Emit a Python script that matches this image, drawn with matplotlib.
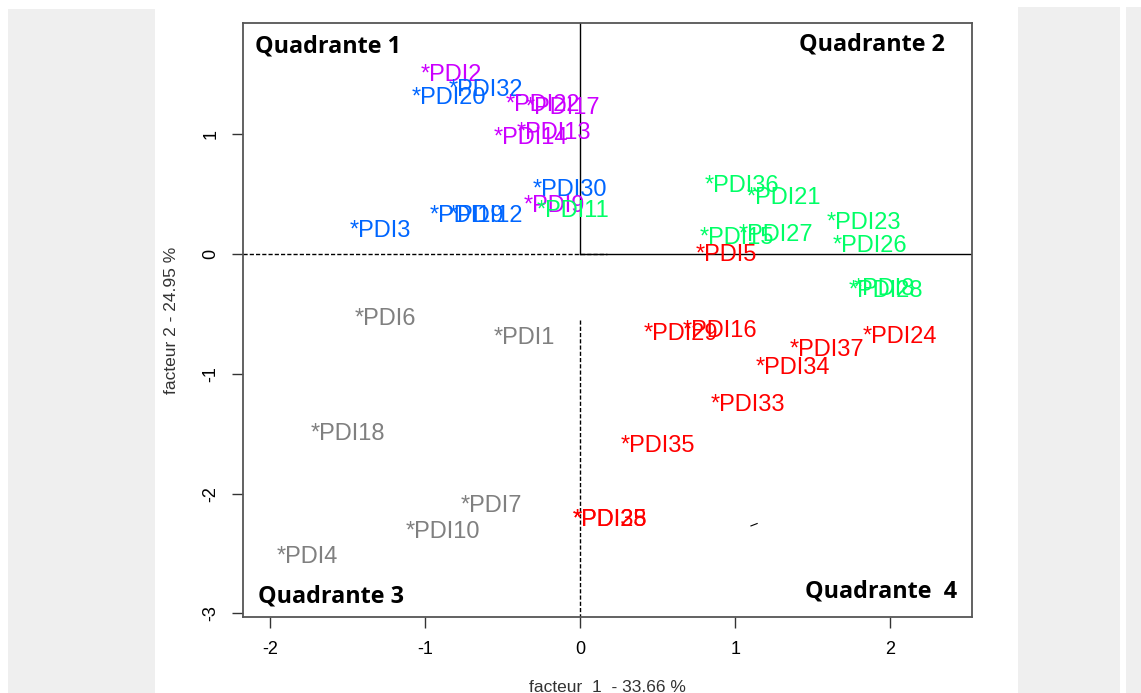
import matplotlib.pyplot as plt
from matplotlib.patches import Rectangle

# individuals on the first factorial plane (label, factor 1, factor 2)
labels_q1 = ["*PDI2", "*PDI32", "*PDI20", "*PDI22", "*PDI17", "*PDI14", "*PDI13",
             "*PDI30", "*PDI9", "*PDI19", "*PDI12", "*PDI3"]
x_q1 = [-0.83, -0.61, -0.85, -0.245, -0.115, -0.32, -0.17, -0.065, -0.17, -0.735, -0.61, -1.29]
y_q1 = [1.49, 1.37, 1.30, 1.24, 1.22, 0.97, 1.01, 0.53, 0.40, 0.32, 0.32, 0.19]
col_q1 = ["#CC00FF", "#0066FF", "#0066FF", "#CC00FF", "#CC00FF", "#CC00FF", "#CC00FF",
          "#0066FF", "#CC00FF", "#0066FF", "#0066FF", "#0066FF"]

labels_green = ["*PDI11", "*PDI36", "*PDI21", "*PDI23", "*PDI27", "*PDI15", "*PDI26", "*PDI8", "*PDI28"]
x_green = [-0.045, 1.045, 1.31, 1.83, 1.26, 1.01, 1.87, 1.96, 1.97]
y_green = [0.355, 0.57, 0.47, 0.26, 0.16, 0.13, 0.07, -0.29, -0.31]

labels_red = ["*PDI5", "*PDI29", "*PDI16", "*PDI24", "*PDI37", "*PDI34", "*PDI33", "*PDI35",
              "*PDI25", "*PDI38"]
x_red = [0.94, 0.65, 0.90, 2.06, 1.59, 1.37, 1.08, 0.50, 0.19, 0.19]
y_red = [-0.01, -0.67, -0.64, -0.69, -0.805, -0.95, -1.265, -1.60, -2.22, -2.22]

labels_gray = ["*PDI6", "*PDI1", "*PDI18", "*PDI7", "*PDI10", "*PDI4"]
x_gray = [-1.26, -0.36, -1.50, -0.575, -0.89, -1.76]
y_gray = [-0.545, -0.70, -1.505, -2.10, -2.32, -2.53]

xticks = [-2, -1, 0, 1, 2]
yticks = [-3, -2, -1, 0, 1]

fig = plt.figure(figsize=(11.41, 6.93), dpi=100)
fig.patch.set_facecolor("white")

# grey page panels around the plot
W, H = 1141, 693
for (x0, y0, x1, y1) in [(8, 9, 155, 693), (1018, 7, 1120, 693), (1126, 7, 1141, 693)]:
    fig.patches.append(Rectangle((x0 / W, 1 - y1 / H), (x1 - x0) / W, (y1 - y0) / H,
                                 transform=fig.transFigure, facecolor="#efefef",
                                 edgecolor="none", zorder=0))

ax = fig.add_axes([243 / W, 1 - 617 / H, (972 - 243) / W, (617 - 23) / H])
ax.set_xlim(-2.177, 2.526)
ax.set_ylim(-3.03, 1.927)

fam = ["Liberation Sans", "DejaVu Sans"]
fs = 17
for lab, x, y, c in zip(labels_q1, x_q1, y_q1, col_q1):
    ax.text(x, y, lab, color=c, fontsize=fs, family=fam, ha="center", va="center")
for lab, x, y in zip(labels_green, x_green, y_green):
    ax.text(x, y, lab, color="#00FF66", fontsize=fs, family=fam, ha="center", va="center")
for lab, x, y in zip(labels_red, x_red, y_red):
    ax.text(x, y, lab, color="#FF0000", fontsize=fs, family=fam, ha="center", va="center")
for lab, x, y in zip(labels_gray, x_gray, y_gray):
    ax.text(x, y, lab, color="#808080", fontsize=fs, family=fam, ha="center", va="center")

# axes through the origin
ax.plot([0, 2.526], [0, 0], color="black", lw=1)
ax.plot([-2.177, 0.17], [0, 0], color="black", lw=1, ls="--", dashes=(3, 1.5))
ax.plot([0, 0], [0, 1.927], color="black", lw=1)
ax.plot([0, 0], [-0.55, -3.03], color="black", lw=1, ls="--", dashes=(3, 1.5))
ax.plot([1.10, 1.14], [-2.27, -2.25], color="black", lw=0.8)

# quadrant captions
qfam = ["Open Sans", "DejaVu Sans"]
qfs = 16.8
ax.text(-2.10, 1.735, "Quadrante 1", fontsize=qfs, fontweight="bold", family=qfam,
        ha="left", va="center")
ax.text(2.35, 1.75, "Quadrante 2", fontsize=qfs, fontweight="bold", family=qfam,
        ha="right", va="center")
ax.text(-2.08, -2.855, "Quadrante 3", fontsize=qfs, fontweight="bold", family=qfam,
        ha="left", va="center")
ax.text(2.43, -2.82, "Quadrante  4", fontsize=qfs, fontweight="bold", family=qfam,
        ha="right", va="center")

ax.set_xticks(xticks)
ax.set_yticks(yticks)
ax.set_xticklabels([str(t) for t in xticks], family=fam, fontsize=13)
ax.set_yticklabels([str(t) for t in yticks], family=fam, fontsize=13, rotation=90, va="center")
ax.tick_params(length=8, width=1, color="#333333", pad=9)
for s in ax.spines.values():
    s.set_color("#555555")
    s.set_linewidth(1.3)

ax.set_xlabel("facteur  1  - 33.66 %", family=fam, fontsize=12.5, color="#333333", labelpad=16)
ax.set_ylabel("facteur 2 - 24.95 %", family=fam, fontsize=12.5, color="#333333", labelpad=17)

fig.savefig("out.png", dpi=100)
